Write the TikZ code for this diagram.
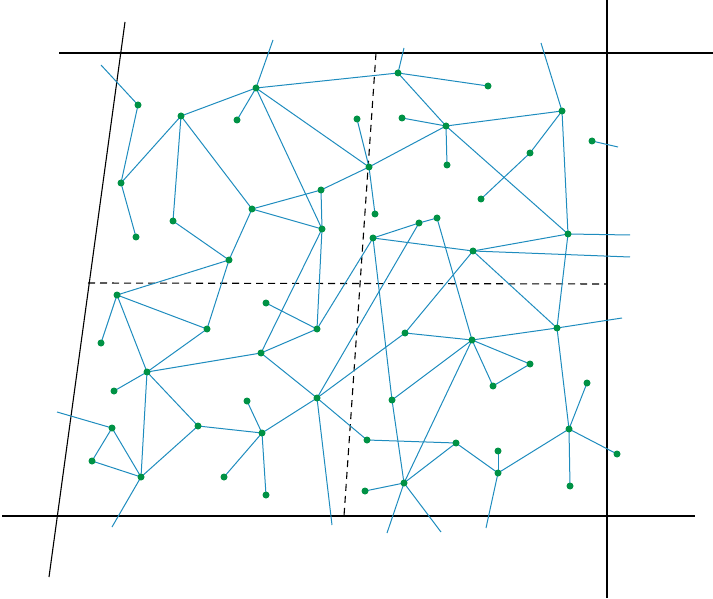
\documentclass[tikz,border=0pt]{standalone}
\definecolor{edgeblue}{RGB}{30,140,190}
\definecolor{dotgreen}{RGB}{0,146,69}
\begin{document}
\begin{tikzpicture}[x=1pt,y=-1pt,
  frame/.style={black,line width=1.1pt},
  dashline/.style={black,line width=1.1pt,dash pattern=on 7pt off 5pt},
  edge/.style={edgeblue,line width=1pt},
  dot/.style={circle,fill=dotgreen,inner sep=0pt,minimum size=7pt}]
\useasboundingbox (0,0) rectangle (713,599);
% frame lines
\draw[frame] (125,22) -- (49,577);
\draw[frame] (59,53) -- (713,53);
\draw[frame] (607,0) -- (607,598);
\draw[frame] (2,516) -- (695,516);
\draw[dashline] (88,283) -- (607,284);
\draw[dashline] (376,53) -- (344,516);
% points
\coordinate (A1) at (138,105);
\coordinate (A2) at (181,116);
\coordinate (A3) at (256,88);
\coordinate (A4) at (237,120);
\coordinate (A5) at (357,119);
\coordinate (A6) at (121,183);
\coordinate (A7) at (173,221);
\coordinate (A8) at (136,237);
\coordinate (A9) at (252,209);
\coordinate (A10) at (321,190);
\coordinate (A11) at (322,229);
\coordinate (A12) at (229,260);
\coordinate (A13) at (117,295);
\coordinate (B1) at (398,73);
\coordinate (B2) at (488,86);
\coordinate (B4) at (402,118);
\coordinate (B5) at (446,126);
\coordinate (B6) at (562,111);
\coordinate (B7) at (592,141);
\coordinate (B8) at (530,153);
\coordinate (B9) at (369,167);
\coordinate (B10) at (447,165);
\coordinate (B11) at (481,199);
\coordinate (B12) at (375,214);
\coordinate (B13) at (419,223);
\coordinate (B14) at (437,218);
\coordinate (B15) at (373,238);
\coordinate (B16) at (568,234);
\coordinate (B17) at (473,251);
\coordinate (C1) at (207,329);
\coordinate (C2) at (266,303);
\coordinate (C3) at (317,329);
\coordinate (C4) at (101,343);
\coordinate (C5) at (261,353);
\coordinate (C6) at (147,372);
\coordinate (C7) at (114,391);
\coordinate (C8) at (317,398);
\coordinate (C9) at (247,401);
\coordinate (C10) at (112,428);
\coordinate (C11) at (198,426);
\coordinate (C12) at (262,433);
\coordinate (C13) at (92,461);
\coordinate (C14) at (141,477);
\coordinate (C15) at (224,477);
\coordinate (C16) at (266,495);
\coordinate (D1) at (405,333);
\coordinate (D2) at (472,340);
\coordinate (D3) at (557,328);
\coordinate (D4) at (530,364);
\coordinate (D5) at (493,386);
\coordinate (D6) at (587,383);
\coordinate (D7) at (392,400);
\coordinate (D8) at (569,429);
\coordinate (D9) at (367,440);
\coordinate (D10) at (456,443);
\coordinate (D11) at (498,451);
\coordinate (D12) at (617,454);
\coordinate (D13) at (498,473);
\coordinate (D14) at (404,483);
\coordinate (D15) at (365,491);
\coordinate (D16) at (570,486);
% free ends
\coordinate (FA1) at (101,65);
\coordinate (FA3) at (273,40);
\coordinate (FB1) at (404,48);
\coordinate (FB6) at (541,43);
\coordinate (FB7) at (618,147);
\coordinate (FB16) at (630,235);
\coordinate (FB17) at (630,257);
\coordinate (FD3) at (622,318);
\coordinate (FC10) at (57,412);
\coordinate (FC14) at (112,527);
\coordinate (FC8) at (332,525);
\coordinate (FD14a) at (387,533);
\coordinate (FD14b) at (441,532);
\coordinate (FD13) at (486,528);
% edges
\foreach \a/\b in {FA1/A1,A1/A6,A6/A2,A6/A8,A2/A3,A2/A7,A2/A9,A3/FA3,A3/A4,A3/A11,
  A3/B9,A3/B1,A9/A10,A9/A11,A9/A12,A10/A11,A10/B9,A7/A12,A12/A13,A12/C1,A11/C5,A11/C3,
  B1/FB1,B1/B2,B1/B5,B4/B5,B5/B6,B5/B10,B5/B9,B5/B16,B6/FB6,B6/B8,B8/B11,B6/B16,
  B7/FB7,B16/FB16,B16/B17,B17/FB17,B17/B15,B15/B13,B13/B14,B14/D2,B17/D1,B17/D3,
  B16/D3,B15/D7,B13/C8,C3/B15,A5/B9,B9/B12,C2/C3,C3/C5,C5/C6,C5/C8,C8/D1,C8/D9,
  C8/FC8,C8/C12,C9/C12,C11/C12,C12/C15,C12/C16,D7/D14,D14/D2,D1/D2,D2/D3,D2/D4,
  D2/D5,D2/D7,D4/D5,D3/FD3,D3/D8,D8/D6,D8/D12,D8/D16,D8/D13,D9/D10,D10/D14,
  D10/D13,D13/D11,D13/FD13,D14/D15,D14/FD14a,D14/FD14b,C1/A13,C1/C6,A13/C4,
  A13/C6,C6/C7,C6/C14,C6/C11,C11/C14,C10/FC10,C10/C13,C10/C14,C13/C14,C14/FC14}
  \draw[edge] (\a) -- (\b);
% dots
\foreach \p in {A1,A2,A3,A4,A5,A6,A7,A8,A9,A10,A11,A12,A13,
  B1,B2,B4,B5,B6,B7,B8,B9,B10,B11,B12,B13,B14,B15,B16,B17,
  C1,C2,C3,C4,C5,C6,C7,C8,C9,C10,C11,C12,C13,C14,C15,C16,
  D1,D2,D3,D4,D5,D6,D7,D8,D9,D10,D11,D12,D13,D14,D15,D16}
  \node[dot] (n\p) at (\p) {};
\end{tikzpicture}
\end{document}
